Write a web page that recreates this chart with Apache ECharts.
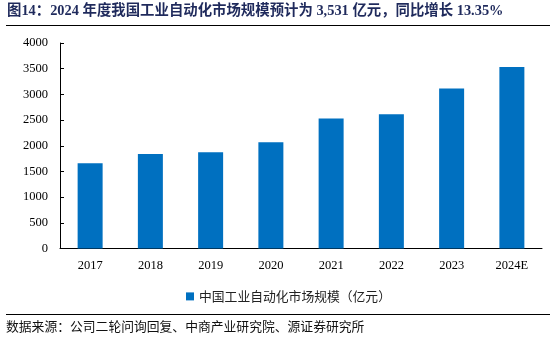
<!DOCTYPE html>
<html><head><meta charset="utf-8">
<script src="https://cdn.jsdelivr.net/npm/echarts@6/dist/echarts.min.js"></script>
<style>html,body{margin:0;padding:0;background:#fff;}#c{width:556px;height:340px;}</style>
</head><body><div id="c"></div>
<script>
const categories = ['2017','2018','2019','2020','2021','2022','2023','2024E'];
const values = [1658, 1840, 1875, 2070, 2530, 2611, 3115, 3531];
const seriesName = '中国工业自动化市场规模（亿元）';
const yTicks = [0, 500, 1000, 1500, 2000, 2500, 3000, 3500, 4000];
const titleText = '图14：2024 年度我国工业自动化市场规模预计为 3,531 亿元，同比增长 13.35%';
const sourceText = '数据来源：公司二轮问询回复、中商产业研究院、源证券研究所';

const chart = echarts.init(document.getElementById('c'));
const serif = '"Liberation Serif","Noto Sans CJK SC",serif';
chart.setOption({
  animation: false,
  grid: {left: 60, right: 14, top: 43, bottom: 91.5},
  legend: {
    data: [seriesName], top: 285, left: 181, itemWidth: 8, itemHeight: 8, itemGap: 4,
    icon: 'rect',
    textStyle: {fontFamily: '"Noto Sans CJK SC"', fontSize: 12.8, color: '#222'}
  },
  xAxis: {
    type: 'category', data: categories,
    axisLine: {lineStyle: {color: '#000', width: 1}},
    axisTick: {show: false},
    axisLabel: {fontFamily: serif, fontSize: 12.5, color: '#000', margin: 11}
  },
  yAxis: {
    type: 'value', min: yTicks[0], max: yTicks[yTicks.length-1], interval: 500,
    axisLine: {show: true, lineStyle: {color: '#000', width: 1}},
    axisTick: {show: true, inside: true, length: 4, lineStyle: {color: '#000'}},
    splitLine: {show: false},
    axisLabel: {fontFamily: serif, fontSize: 12.5, color: '#000', margin: 12, formatter: v => String(v)}
  },
  series: [{
    name: seriesName, type: 'bar', data: values, barWidth: 25,
    itemStyle: {color: '#0070C0'}
  }],
  graphic: [
    {type: 'text', left: 7, top: 4, style: {text: titleText, font: 'bold 14.4px "Liberation Serif","Noto Sans CJK SC",serif', fill: '#1F2A5C'}},
    {type: 'line', shape: {x1: 6, y1: 25.5, x2: 550, y2: 25.5}, style: {stroke: '#000', lineWidth: 1}},
    {type: 'line', shape: {x1: 6, y1: 314.5, x2: 550, y2: 314.5}, style: {stroke: '#000', lineWidth: 1}},
    {type: 'text', left: 6, top: 320, style: {text: sourceText, font: '12.8px "Noto Sans CJK SC"', fill: '#111'}}
  ]
});
</script></body></html>
